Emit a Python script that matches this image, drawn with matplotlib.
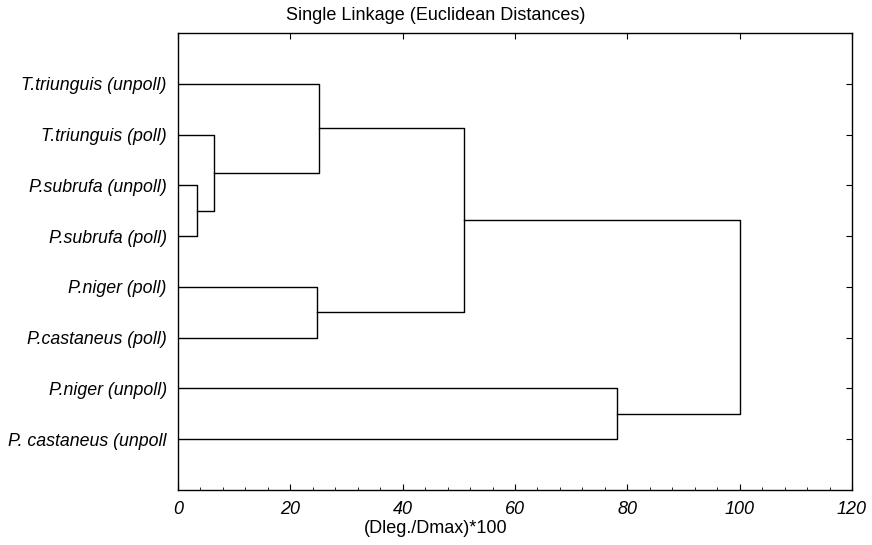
import numpy as np
from matplotlib import pyplot as plt

plt.rcParams['font.family'] = ['Liberation Sans', 'DejaVu Sans']

labels = ['T.triunguis (unpoll)', 'T.triunguis (poll)', 'P.subrufa (unpoll)',
          'P.subrufa (poll)', 'P.niger (poll)', 'P.castaneus (poll)',
          'P.niger (unpoll)', 'P. castaneus (unpoll']
# merges: (left node, right node, height); leaves are 0..7, new nodes 8..
merges = [(2, 3, 3.4), (1, 8, 6.4), (0, 9, 25.1), (4, 5, 24.7),
          (10, 11, 50.9), (6, 7, 78.2), (12, 13, 100.0)]
xticks = [0, 20, 40, 60, 80, 100, 120]

fig = plt.figure(figsize=(8.72, 5.45), dpi=100)
ax = fig.add_axes([0.2041, 0.1009, 0.7730, 0.8385])

pos = {i: (i + 1, 0.0) for i in range(len(labels))}
for k, (a, b, h) in enumerate(merges):
    ya, xa = pos[a]
    yb, xb = pos[b]
    ax.plot([xa, h, h, xb], [ya, ya, yb, yb], color='black', lw=1)
    pos[len(labels) + k] = ((ya + yb) / 2, h)

ax.set_xlim(0, 120)
ax.set_ylim(9, 0)
ax.set_xticks(xticks)
ax.set_xticks(np.arange(0, 121, 4), minor=True)
ax.set_xticklabels([str(t) for t in xticks], fontsize=13, style='italic')
ax.set_yticks(range(1, len(labels) + 1))
ax.set_yticklabels(labels, fontsize=12.8, style='italic')
ax.tick_params(axis='x', direction='in', length=4, pad=8, top=True)
ax.tick_params(axis='x', which='minor', direction='in', length=2)
ax.tick_params(axis='y', direction='in', length=4, right=True, left=False, pad=8)
for s in ax.spines.values():
    s.set_linewidth(1)

fig.text(0.5, 0.971, 'Single Linkage (Euclidean Distances)', ha='center', va='center', fontsize=13)
fig.text(0.5, 0.031, '(Dleg./Dmax)*100', ha='center', va='center', fontsize=13)

fig.savefig('out.png', dpi=100)
